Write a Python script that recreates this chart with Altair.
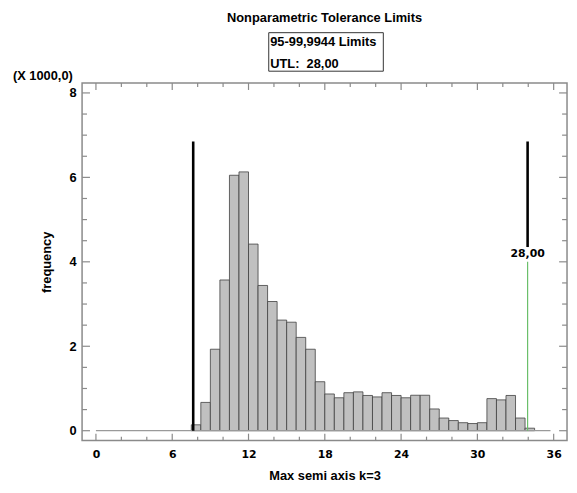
import altair as alt
import pandas as pd

# ---- data (frequency in thousands) ----
bin_left = [7.5, 8.25, 9.0, 9.75, 10.5, 11.25, 12.0, 12.75, 13.5, 14.25, 15.0, 15.75,
            16.5, 17.25, 18.0, 18.75, 19.5, 20.25, 21.0, 21.75, 22.5, 23.25, 24.0, 24.75,
            25.5, 26.25, 27.0, 27.75, 28.5, 29.25, 30.0, 30.75, 31.5, 32.25, 33.0, 33.75]
bin_width = 0.75
freq = [0.14, 0.67, 1.93, 3.57, 6.05, 6.13, 4.42, 3.44, 3.06, 2.62, 2.57, 2.21,
        1.93, 1.16, 0.87, 0.78, 0.90, 0.92, 0.835, 0.80, 0.90, 0.835, 0.78, 0.84,
        0.84, 0.515, 0.30, 0.24, 0.19, 0.17, 0.19, 0.76, 0.73, 0.835, 0.30, 0.06]

x_major = [0, 6, 12, 18, 24, 30, 36]
x_minor = [2, 4, 8, 10, 14, 16, 20, 22, 26, 28, 32, 34]
y_major = [0, 2, 4, 6, 8]
y_minor = [0.5, 1, 1.5, 2.5, 3, 3.5, 4.5, 5, 5.5, 6.5, 7, 7.5]

baseline_range = [0, 35.75]
lower_limit_x = 7.65
upper_limit_x = 33.95
limit_top = 6.85
upper_black_bottom = 4.35
green_top = 4.0
utl_label = "28,00"
utl_label_y = 4.18

title_text = "Nonparametric Tolerance Limits"
box_line1 = "95-99,9944 Limits"
box_line2 = "UTL:\u00a0\u00a028,00"
scale_note = "(X 1000,0)"

W, H = 491, 362
XDOM = [-1.09, 37.05]
YDOM = [-0.234, 8.234]
FRAME = "#8a8a8a"
SANS = "Liberation Sans"
DJV = "DejaVu Sans"

bars_df = pd.DataFrame({
    "x": bin_left,
    "x2": [b + bin_width for b in bin_left],
    "f": freq,
})

xs = alt.Scale(domain=XDOM, nice=False, zero=False)
ys = alt.Scale(domain=YDOM, nice=False, zero=False)

base = alt.Chart(bars_df)

bars = base.mark_rect(fill="#c0c0c0", stroke="#404040", strokeWidth=0.8).encode(
    x=alt.X("x:Q", scale=xs, axis=alt.Axis(
        title="Max semi axis k=3", values=x_major, format="d", grid=False,
        ticks=False, tickSize=0, domain=False, labelPadding=8,
        labelFont=DJV, labelFontSize=11, labelFontWeight="bold", labelColor="#000",
        titleFont=SANS, titleFontSize=13, titleFontWeight="bold", titleColor="#000",
        titlePadding=10)),
    x2="x2:Q",
    y=alt.Y("f:Q", scale=ys, axis=alt.Axis(
        title="frequency", values=y_major, format="d", grid=False,
        ticks=False, tickSize=0, domain=False, labelPadding=6,
        labelFont=SANS, labelFontSize=13, labelFontWeight="bold", labelColor="#000",
        titleFont=SANS, titleFontSize=13, titleFontWeight="bold", titleColor="#000",
        titlePadding=16)),
    y2=alt.datum(0),
)

baseline = alt.Chart(pd.DataFrame({"a": [baseline_range[0]], "b": [baseline_range[1]], "y": [0]})).mark_rule(
    color="#9a9a9a", strokeWidth=1.2).encode(x=alt.X("a:Q", scale=xs), x2="b:Q", y=alt.Y("y:Q", scale=ys))

lines_df = pd.DataFrame({
    "x": [lower_limit_x, upper_limit_x],
    "top": [limit_top, limit_top],
    "bot": [0, upper_black_bottom],
})
black_lines = alt.Chart(lines_df).mark_rule(color="#000", strokeWidth=2.6).encode(
    x=alt.X("x:Q", scale=xs), y=alt.Y("top:Q", scale=ys), y2="bot:Q")

green = alt.Chart(pd.DataFrame({"x": [upper_limit_x], "top": [green_top], "bot": [0]})).mark_rule(
    color="#6abf6a", strokeWidth=1.2).encode(
    x=alt.X("x:Q", scale=xs), y=alt.Y("top:Q", scale=ys), y2="bot:Q")

utl_text = alt.Chart(pd.DataFrame({"x": [upper_limit_x], "y": [utl_label_y], "t": [utl_label]})).mark_text(
    font=DJV, fontSize=11, fontWeight="bold", color="#000", align="center", baseline="middle").encode(
    x=alt.X("x:Q", scale=xs), y=alt.Y("y:Q", scale=ys), text="t:N")

# inside ticks (frame ticks) built from tick lists
xmaj = pd.DataFrame({"v": x_major})
xmin = pd.DataFrame({"v": x_minor})
ymaj = pd.DataFrame({"v": y_major})
ymin = pd.DataFrame({"v": y_minor})

def xticks(df, length):
    b = alt.Chart(df).mark_rule(color=FRAME, strokeWidth=1.2)
    return (b.encode(x=alt.X("v:Q", scale=xs), y=alt.value(H), y2=alt.value(H - length)) +
            b.encode(x=alt.X("v:Q", scale=xs), y=alt.value(0), y2=alt.value(length)))

def yticks(df, length):
    b = alt.Chart(df).mark_rule(color=FRAME, strokeWidth=1.2)
    return (b.encode(y=alt.Y("v:Q", scale=ys), x=alt.value(0), x2=alt.value(length)) +
            b.encode(y=alt.Y("v:Q", scale=ys), x=alt.value(W), x2=alt.value(W - length)))

ticks = xticks(xmaj, 7) + xticks(xmin, 4) + yticks(ymaj, 8) + yticks(ymin, 5)

one = pd.DataFrame({"t": [0]})

title = alt.Chart(pd.DataFrame({"t": [title_text]})).mark_text(
    font=SANS, fontSize=13, fontWeight="bold", color="#000", align="center", baseline="middle").encode(
    text="t:N", x=alt.value(W / 2), y=alt.value(-66))

box = alt.Chart(one).mark_rect(fill="white", stroke="#333", strokeWidth=1).encode(
    x=alt.value(189), x2=alt.value(305), y=alt.value(-51), y2=alt.value(-12))

box_t1 = alt.Chart(pd.DataFrame({"t": [box_line1]})).mark_text(
    font=SANS, fontSize=13, fontWeight="bold", color="#000", align="left", baseline="middle").encode(
    text="t:N", x=alt.value(190.5), y=alt.value(-41.5))
box_t2 = alt.Chart(pd.DataFrame({"t": [box_line2]})).mark_text(
    font=SANS, fontSize=13, fontWeight="bold", color="#000", align="left", baseline="middle").encode(
    text="t:N", x=alt.value(190.5), y=alt.value(-19.5))

note = alt.Chart(pd.DataFrame({"t": [scale_note]})).mark_text(
    font=SANS, fontSize=13, fontWeight="bold", color="#000", align="left", baseline="middle").encode(
    text="t:N", x=alt.value(-70), y=alt.value(-7.5))

chart = alt.layer(
    bars, baseline, black_lines, green, utl_text, ticks, title, box, box_t1, box_t2, note
).properties(
    width=W, height=H,
    autosize=alt.AutoSizeParams(type="none"),
    padding={"left": 75, "top": 73, "right": 2, "bottom": 44},
    background="white",
).configure_view(stroke=FRAME, strokeWidth=1.5)

chart.save("out.html", embed_options={"renderer": "svg", "actions": False})
